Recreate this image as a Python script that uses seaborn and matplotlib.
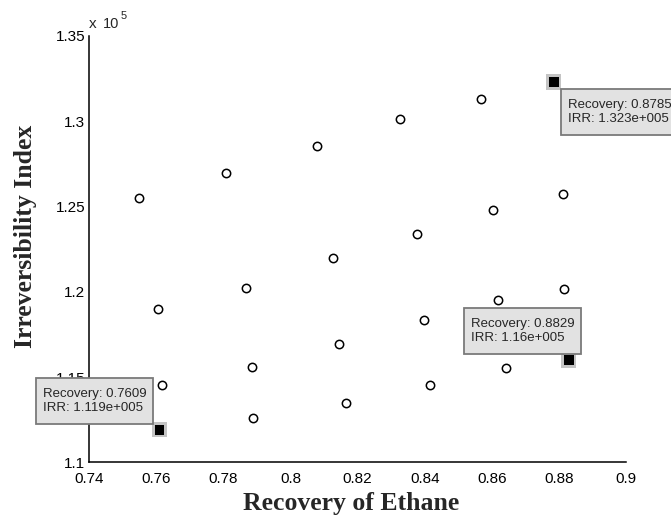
import matplotlib
matplotlib.use("Agg")
import matplotlib.pyplot as plt
import seaborn as sns
import pandas as pd
from matplotlib.path import Path
from matplotlib.ticker import FuncFormatter

# Sampled operating points: ethane recovery vs. irreversibility index
recovery = [0.7548, 0.7809, 0.8078, 0.8326, 0.8567, 0.8811, 0.8603,
            0.8377, 0.8126, 0.7866, 0.7604, 0.7884, 0.7618, 0.7889,
            0.8144, 0.8397, 0.8619, 0.8815, 0.8641, 0.8415, 0.8165]
irr = [1.2550e5, 1.2697e5, 1.2853e5, 1.3013e5, 1.3128e5, 1.2575e5, 1.2477e5,
       1.2340e5, 1.2198e5, 1.2025e5, 1.1900e5, 1.1558e5, 1.1454e5, 1.1258e5,
       1.1693e5, 1.1835e5, 1.1949e5, 1.2017e5, 1.1552e5, 1.1454e5, 1.1350e5]

# Points marked with data tips
tip_recovery = [0.8785, 0.8829, 0.7609]
tip_irr = [1.323e5, 1.16e5, 1.119e5]

x_ticks = [0.74, 0.76, 0.78, 0.80, 0.82, 0.84, 0.86, 0.88, 0.90]
y_ticks = [1.10e5, 1.15e5, 1.20e5, 1.25e5, 1.30e5, 1.35e5]

sns.set_style("white")
plt.rcParams["font.family"] = ["Liberation Sans", "DejaVu Sans"]

points = pd.DataFrame({"Recovery": recovery, "IRR": irr})
tips = pd.DataFrame({"Recovery": tip_recovery, "IRR": tip_irr})

fig = plt.figure(figsize=(6.71, 5.15), dpi=100)
ax = fig.add_axes([0.1331, 0.1023, 0.7998, 0.8278])

sns.scatterplot(data=points, x="Recovery", y="IRR", ax=ax, marker="o", s=36,
                facecolor="white", edgecolor="black", linewidth=1.1, zorder=3)
# grey halo under the selected markers
sns.scatterplot(data=tips, x="Recovery", y="IRR", ax=ax, marker="s", s=118,
                color="#c4c4c4", edgecolor="none", linewidth=0, zorder=4)
sns.scatterplot(data=tips, x="Recovery", y="IRR", ax=ax, marker="s", s=50,
                color="black", edgecolor="none", linewidth=0, zorder=5)

ax.set_xlim(x_ticks[0], x_ticks[-1])
ax.set_ylim(y_ticks[0], y_ticks[-1])
ax.set_xticks(x_ticks)
ax.set_yticks(y_ticks)
ax.xaxis.set_major_formatter(FuncFormatter(lambda v, p: f"{v:g}"))
ax.yaxis.set_major_formatter(FuncFormatter(lambda v, p: f"{v / 1e5:g}"))

for side in ("top", "right"):
    ax.spines[side].set_visible(False)
for side in ("left", "bottom"):
    ax.spines[side].set_linewidth(1.1)
    ax.spines[side].set_color("black")
ax.tick_params(direction="in", length=3.8, width=1.0, labelsize=11,
               colors="black")
ax.tick_params(axis="x", pad=7)
ax.tick_params(axis="y", pad=3)

serif = ["Liberation Serif", "DejaVu Serif"]
ax.set_xlabel("Recovery of Ethane", fontsize=18.5, fontweight="bold",
              family=serif, labelpad=4)
ax.set_ylabel("Irreversibility Index", fontsize=18.5, fontweight="bold",
              family=serif, labelpad=13)
ax.xaxis.label.set_x(0.487)
ax.yaxis.label.set_y(0.531)

# exponent marker above the y axis
for txt, off, size in (("x", (0, 5), 11), ("10", (14, 5), 10.5),
                       ("5", (31, 15), 8)):
    ax.annotate(txt, xy=(0, 1), xycoords="axes fraction", xytext=off,
                textcoords="offset pixels", ha="left", va="bottom",
                fontsize=size)


def matlab_g(v):
    s = f"{v:.4g}"
    if "e" in s:
        m, e = s.split("e")
        s = f"{m}e{e[0]}{int(e[1:]):03d}"
    return s


def tip_box(x0, y0, width, height, mutation_size):
    # rectangle with more room above and below than at the sides
    px, py = 0.5 * mutation_size, 0.75 * mutation_size
    x0, y0 = x0 - px, y0 - py
    x1, y1 = x0 + width + 2 * px, y0 + height + 2 * py
    return Path([(x0, y0), (x1, y0), (x1, y1), (x0, y1), (x0, y0)],
                closed=True)


box = dict(boxstyle=tip_box, facecolor="#e2e2e2",
           edgecolor="#7a7a7a", linewidth=1.3)
placement = [
    ((14, -17), "left", "top"),
    ((6, 16), "right", "bottom"),
    ((-13, 16), "right", "bottom"),
]
for xv, yv, (off, ha, va) in zip(tip_recovery, tip_irr, placement):
    ax.annotate(f"Recovery: {matlab_g(xv)}\nIRR: {matlab_g(yv)}",
                xy=(xv, yv), xytext=off, textcoords="offset pixels",
                ha=ha, va=va, multialignment="left", fontsize=9.5,
                linespacing=1.2, bbox=box, zorder=10, annotation_clip=False)

fig.savefig("out.png", dpi=100)
